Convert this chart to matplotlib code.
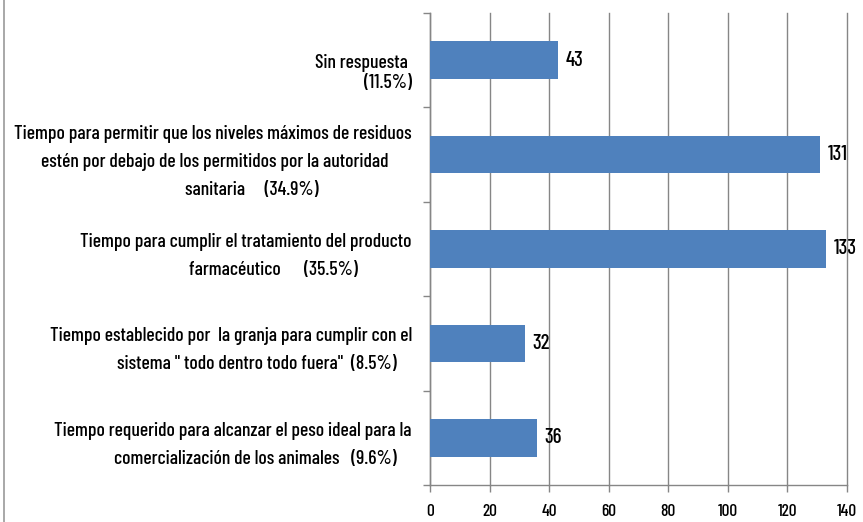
import matplotlib
matplotlib.use("Agg")
import matplotlib.pyplot as plt
from matplotlib.lines import Line2D
import numpy as np

plt.rcParams['font.family'] = ['Barlow Condensed', 'Archivo Narrow', 'DejaVu Sans']
plt.rcParams['font.weight'] = 500

categories = [
    "\nSin respuesta \n(11.5%)",
    "Tiempo para permitir que los niveles máximos de residuos\n"
    "estén por debajo de los permitidos por la autoridad      \n"
    "sanitaria     (34.9%)                        ",
    "Tiempo para cumplir el tratamiento del producto\n"
    "farmacéutico      (35.5%)              ",
    "Tiempo establecido por  la granja para cumplir con el\n"
    "sistema \" todo dentro todo fuera\"  (8.5%)    ",
    "Tiempo requerido para alcanzar el peso ideal para la\n"
    "comercialización de los animales   (9.6%)    ",
]
values = [43, 131, 133, 32, 36]
xticks = [0, 20, 40, 60, 80, 100, 120, 140]

W, H = 863, 522
fig = plt.figure(figsize=(W / 100, H / 100), dpi=100)
ax = fig.add_axes([430 / W, 1 - 485 / H, (847 - 430) / W, (485 - 13) / H])

pos = np.arange(len(values))
ax.barh(pos, values, height=0.4, color='#4F81BD', zorder=3)
ax.set_ylim(len(values) - 0.5, -0.5)
ax.set_xlim(0, 140)

for y, v in zip(pos, values):
    ax.text(v + 2.5, y, str(v), va='center', ha='left', fontsize=15, color='black')

ax.set_yticks(pos)
ax.set_yticklabels(categories, fontsize=14.1, multialignment='right', linespacing=1.72)
labs = ax.get_yticklabels()
labs[0].set_linespacing(1.15)
ax.tick_params(axis='y', which='major', length=0, pad=13)
ax.set_yticks(np.arange(-0.5, len(values), 1), minor=True)
ax.tick_params(axis='y', which='minor', length=5, color='#868686', width=1)

ax.set_xticks(xticks)
ax.set_xticklabels([str(t) for t in xticks], fontsize=12.5)
ax.tick_params(axis='x', length=5, color='#868686', width=1, pad=9)
ax.xaxis.grid(True, color='#868686', linewidth=1, zorder=0)
for gl in ax.get_xgridlines():
    gl.set_clip_on(False)

for s in ['top', 'right']:
    ax.spines[s].set_visible(False)
for s in ['left', 'bottom']:
    ax.spines[s].set_color('#868686')
    ax.spines[s].set_linewidth(1)

fig.add_artist(Line2D([3.5 / W, 3.5 / W], [0, 1], color='#9a9a9a', linewidth=1.2))

fig.savefig('out.png', dpi=100)
